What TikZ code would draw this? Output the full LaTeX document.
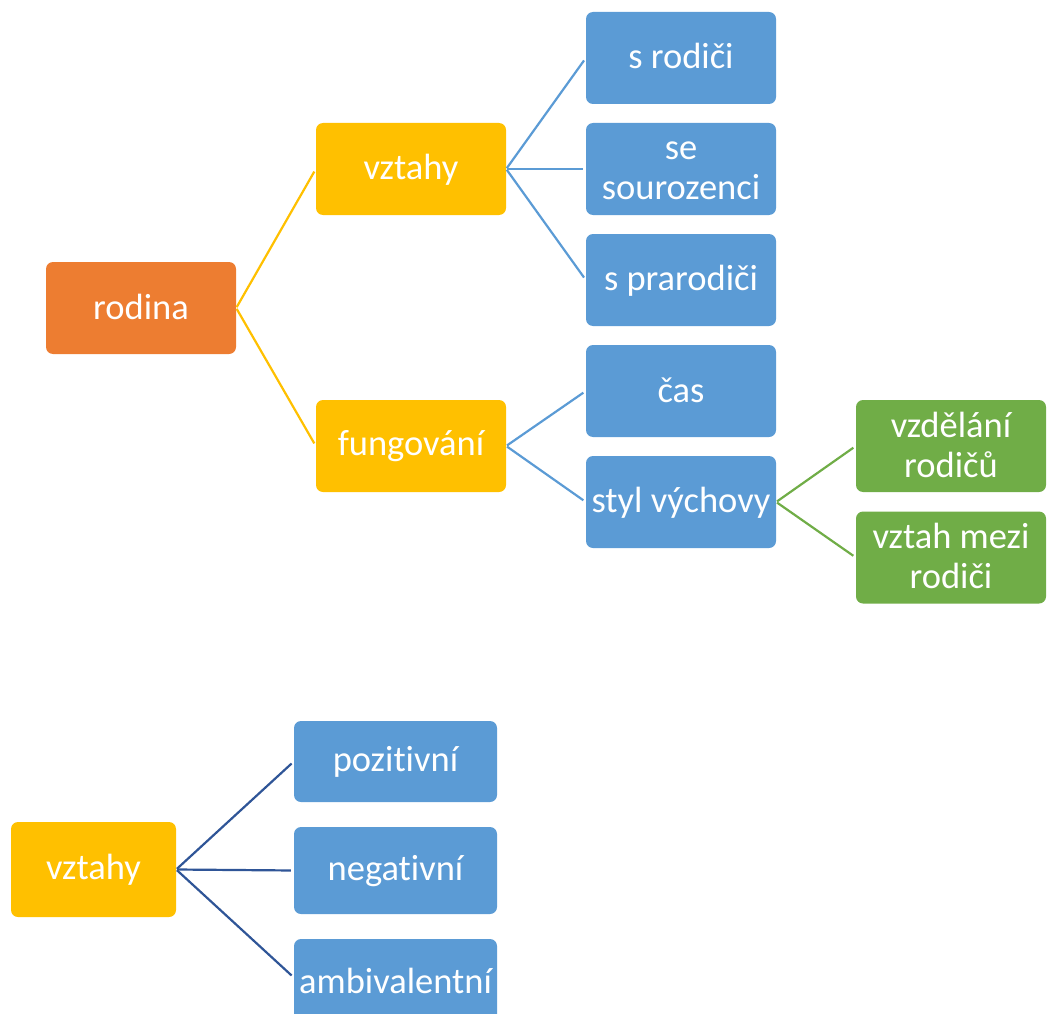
\documentclass[tikz,border=0pt]{standalone}
\usepackage{fontspec}
\setmainfont{Carlito}[Ligatures=NoCommon]
\definecolor{boxorange}{HTML}{ED7D31}
\definecolor{boxyellow}{HTML}{FFC000}
\definecolor{boxblue}{HTML}{5B9BD5}
\definecolor{boxgreen}{HTML}{70AD47}
\definecolor{linkdark}{HTML}{2F5597}
% fixed line height and depth so every label sits at the same place in its box
\newcommand\boxstrut{\rule[-4pt]{0pt}{30pt}}
\begin{document}
\begin{tikzpicture}[x=1pt,y=-1pt,
  box/.style={rectangle, rounded corners=7pt, inner sep=0pt,
    minimum width=190pt, minimum height=92pt, text=white,
    font=\fontsize{36.5}{40}\selectfont, align=center},
  orangebox/.style={box, fill=boxorange},
  yellowbox/.style={box, fill=boxyellow},
  bluebox/.style={box, fill=boxblue},
  greenbox/.style={box, fill=boxgreen},
  link/.style={line width=2.2pt, shorten <=1pt, shorten >=3pt}]
\useasboundingbox (0,0) rectangle (1047,1014);
\clip (0,0) rectangle (1047,1014);

% family tree
\node[orangebox] (rodina) at (141,308) {\boxstrut rodina\boxstrut};
\node[yellowbox] (vztahy) at (411,169) {\boxstrut vztahy\boxstrut};
\node[yellowbox] (fung) at (411,446) {\boxstrut fungování\boxstrut};
\node[bluebox] (rodici) at (681,58) {\boxstrut s rodiči\boxstrut};
\node[bluebox] (souroz) at (681,169) {\boxstrut se\\sourozenci\boxstrut};
\node[bluebox] (prarod) at (681,280) {\boxstrut s prarodiči\boxstrut};
\node[bluebox] (cas) at (681,391) {\boxstrut čas\boxstrut};
\node[bluebox] (styl) at (681,502) {\boxstrut styl výchovy\boxstrut};
\node[greenbox] (vzdel) at (951,446) {\boxstrut vzdělání\\rodičů\boxstrut};
\node[greenbox] (mezi) at (951,557.5) {\boxstrut vztah mezi\\rodiči\boxstrut};

\draw[link, boxyellow] (rodina.east) -- (vztahy.west);
\draw[link, boxyellow] (rodina.east) -- (fung.west);
\draw[link, boxblue] (vztahy.east) -- (rodici.west);
\draw[link, boxblue] (vztahy.east) -- (souroz.west);
\draw[link, boxblue] (vztahy.east) -- (prarod.west);
\draw[link, boxblue] (fung.east) -- (cas.west);
\draw[link, boxblue] (fung.east) -- (styl.west);
\draw[link, boxgreen] (styl.east) -- (vzdel.west);
\draw[link, boxgreen] (styl.east) -- (mezi.west);

% kinds of relationships
\node[yellowbox, minimum width=165pt, minimum height=95pt] (vztahyb) at (93.5,869.5) {\boxstrut vztahy\boxstrut};
\node[bluebox, minimum width=203pt, minimum height=81pt] (pozit) at (395.5,761.5) {\boxstrut pozitivní\boxstrut};
\node[bluebox, minimum width=203pt, minimum height=87pt] (negat) at (395.5,870.5) {\boxstrut negativní\boxstrut};
\node[bluebox, minimum width=203pt, minimum height=87pt] (ambiv) at (395.5,982.5) {\boxstrut ambivalentní\boxstrut};

\draw[link, linkdark] (vztahyb.east) -- (pozit.west);
\draw[link, linkdark] (vztahyb.east) -- (negat.west);
\draw[link, linkdark] (vztahyb.east) -- ([yshift=5pt]ambiv.west);
\end{tikzpicture}
\end{document}
